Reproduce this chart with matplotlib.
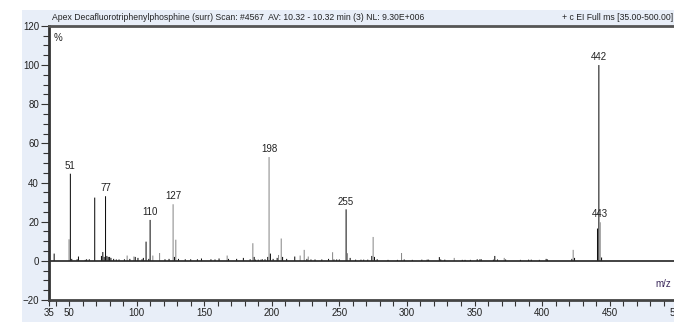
import matplotlib.pyplot as plt
from matplotlib.patches import Rectangle
from matplotlib.ticker import MultipleLocator, FixedLocator

plt.rcParams['font.family'] = ['Liberation Sans', 'DejaVu Sans']

# m/z and relative abundance (%)
mz = [39, 50, 51, 52, 56, 57, 62, 63, 65, 69, 74, 75, 76, 77, 78, 79, 80, 81,
      83, 85, 87, 91, 93, 95, 98, 99, 101, 104, 105, 107, 109, 110, 112, 117,
      121, 124, 127, 128, 129, 131, 136, 140, 145, 148, 155, 158, 161, 167,
      168, 174, 179, 184, 186, 187, 188, 190, 192, 193, 195, 197, 198, 199,
      201, 204, 205, 207, 208, 211, 217, 221, 224, 226, 227, 229, 232, 237,
      242, 245, 246, 248, 250, 255, 256, 258, 262, 266, 268, 271, 274, 275,
      276, 278, 286, 293, 296, 298, 304, 311, 315, 316, 324, 325, 328, 335,
      341, 343, 347, 352, 354, 355, 364, 365, 367, 372, 373, 384, 390, 392,
      398, 403, 404, 422, 423, 424, 441, 442, 443, 444]
abundance = [3.7, 11, 44.5, 1.0, 0.8, 2.2, 0.5, 0.8, 0.8, 32.3, 2.5, 4.5, 2.0,
             33, 2.5, 2.0, 2.0, 1.5, 1.0, 0.7, 0.7, 0.8, 2.7, 1.0, 2.2, 2.0,
             1.5, 0.8, 1.5, 9.8, 1.0, 20.9, 2.7, 4.0, 0.8, 1.0, 28.9, 2.0,
             10.8, 1.0, 0.8, 0.8, 0.8, 1.2, 0.8, 0.7, 1.2, 2.7, 1.0, 1.0, 1.5,
             0.8, 9.0, 2.0, 0.6, 0.6, 0.6, 0.8, 0.8, 2.0, 53, 3.7, 1.0, 1.5,
             3.0, 11.4, 2.0, 1.0, 2.2, 2.7, 5.6, 1.0, 2.2, 0.7, 0.7, 0.7, 1.0,
             4.4, 0.7, 0.7, 0.7, 26.3, 3.9, 1.5, 0.6, 0.6, 0.6, 0.6, 2.5, 12.2,
             2.0, 0.8, 0.5, 0.5, 4.0, 0.7, 0.5, 0.6, 0.6, 0.6, 1.9, 0.7, 0.6,
             1.5, 0.5, 0.5, 0.5, 0.8, 0.8, 0.8, 0.6, 2.5, 0.7, 1.5, 0.7, 0.5,
             0.6, 0.6, 0.5, 1.0, 0.7, 1.0, 5.6, 1.5, 16.5, 100, 19.7, 1.7]
labeled = [51, 77, 110, 127, 198, 255, 442, 443]

title_left = "Apex Decafluorotriphenylphosphine (surr) Scan: #4567  AV: 10.32 - 10.32 min (3) NL: 9.30E+006"
title_right = "+ c EI Full ms [35.00-500.00]"

W, H = 674, 322
fig = plt.figure(figsize=(W / 100, H / 100), dpi=100)
fig.patch.set_facecolor('white')
fig.patches.append(Rectangle((22 / W, 0), 1, 1 - 10 / H, transform=fig.transFigure,
                             facecolor='#e8eef8', edgecolor='none', zorder=-10))

ax = fig.add_axes([48.75 / W, 22 / H, (677.25 - 48.75) / W, (296.1 - 22) / H])
ax.set_facecolor('white')

# peaks that render lighter in the original
grey = {50, 93, 98, 112, 117, 127, 129, 167, 186, 198, 205, 207, 221, 224, 227,
        245, 256, 275, 296, 335, 372, 423, 443}
cols = ['#8a8a8a' if m in grey else '#111111' for m in mz]
bars = ax.vlines(mz, 0, abundance, colors=cols, linewidth=0.75)
bars.set_snap(False)
ax.axhline(0, color='#222222', linewidth=1.2)

for m, a in zip(mz, abundance):
    if m in labeled:
        ax.annotate(str(m), (m, a), xytext=(0, 2), textcoords='offset points',
                    ha='center', va='bottom', fontsize=7, color='#222222')

ax.set_xlim(35, 500)
ax.set_ylim(-20, 120)
ax.xaxis.set_major_locator(FixedLocator([35, 50, 100, 150, 200, 250, 300, 350, 400, 450, 500]))
ax.xaxis.set_minor_locator(MultipleLocator(10))
ax.yaxis.set_major_locator(MultipleLocator(20))
ax.yaxis.set_minor_locator(MultipleLocator(5))
ax.tick_params(axis='both', which='both', direction='out', labelsize=7,
               color='#333333', labelcolor='#222222', width=0.8)
ax.tick_params(axis='y', which='major', length=6, pad=1)
ax.tick_params(axis='y', which='minor', length=4)
ax.tick_params(axis='x', which='major', length=4, pad=2)
ax.tick_params(axis='x', which='minor', length=4)

ax.spines['right'].set_visible(False)
ax.spines['left'].set_linewidth(2)
ax.spines['left'].set_color('#333333')
ax.spines['bottom'].set_linewidth(2)
ax.spines['bottom'].set_color('#444444')
ax.spines['top'].set_linewidth(2)
ax.spines['top'].set_color('#555555')

ax.text(0.008, 0.975, '%', transform=ax.transAxes, fontsize=7, va='top', ha='left',
        color='#222222')
ax.text(0.966, 0.04, 'm/z', transform=ax.transAxes, fontsize=7, va='bottom', ha='left',
        color='#3c2a5c')

fig.text(52 / W, 1 - 18 / H, title_left, fontsize=6.2, va='center', ha='left', color='#222222')
fig.text(562 / W, 1 - 18 / H, title_right, fontsize=6.2, va='center', ha='left', color='#222222')

fig.savefig('out.png', dpi=100)
